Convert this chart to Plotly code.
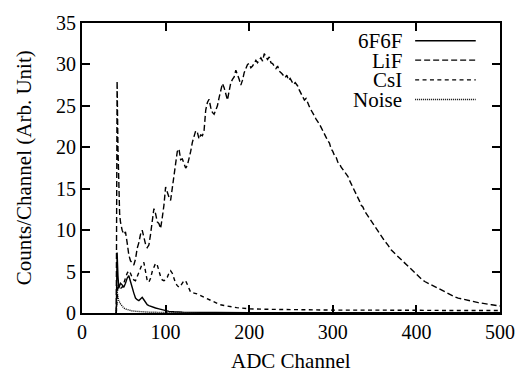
import plotly.graph_objects as go

# ---------------- data ----------------
lif_x = [41, 42, 43, 44, 45, 46, 48, 50, 52, 54, 56, 58, 60, 62, 64, 66, 68, 70, 72, 74,
         76, 78, 80, 82, 84, 86, 88, 90, 92, 94, 96, 98, 100, 102, 104, 106, 108, 110, 112, 114,
         116, 118, 120, 122, 124, 126, 128, 130, 132, 134, 136, 138, 140, 142, 144, 146, 148, 150, 152, 154,
         156, 158, 160, 162, 164, 166, 168, 170, 172, 174, 176, 178, 180, 182, 184, 186, 188, 190, 192, 194,
         196, 198, 200, 202, 204, 206, 208, 210, 212, 214, 216, 218, 220, 222, 224, 226, 228, 230, 232, 234,
         236, 239, 241, 243, 245, 247, 249, 251, 253, 255, 258, 260, 262, 264, 266, 268, 270, 272, 274, 276,
         278, 280, 282, 284, 286, 288, 290, 292, 294, 296, 298, 300, 302, 304, 306, 308, 310, 312, 314, 316,
         318, 320, 322, 324, 326, 328, 330, 332, 334, 336, 338, 340, 342, 344, 346, 348, 350, 354, 358, 362,
         366, 370, 374, 378, 382, 386, 390, 394, 398, 402, 406, 410, 414, 418, 422, 426, 430, 434, 438, 442,
         446, 450, 454, 458, 462, 466, 470, 474, 478, 482, 486, 490, 494, 498, 500]
lif_y = [0, 28.0, 20.0, 15.0, 12.0, 11.0, 10.0, 9.5, 9.8, 8.5, 7.0, 6.3, 6.0, 5.8, 6.5, 7.8, 8.5, 9.5, 10.0, 9.2,
         8.3, 7.9, 8.2, 9.5, 11.0, 12.6, 12.0, 11.0, 10.8, 10.2, 11.5, 13.0, 15.2, 14.5, 14.0, 13.6, 15.0, 16.5, 17.5, 19.5,
         19.8, 18.5, 18.6, 18.0, 17.5, 17.8, 18.5, 19.5, 20.6, 21.5, 22.0, 21.8, 21.0, 21.5, 21.4, 22.0, 24.5, 25.4, 25.8, 24.8,
         24.2, 24.0, 24.5, 25.0, 26.0, 27.0, 27.7, 27.2, 26.5, 25.7, 26.8, 27.8, 28.2, 28.5, 29.3, 28.8, 28.2, 27.5, 28.1, 29.0,
         29.5, 30.0, 30.1, 29.6, 29.8, 30.1, 30.5, 30.2, 30.6, 30.8, 30.4, 31.3, 30.9, 30.6, 30.9, 30.2, 30.1, 29.7, 29.5, 29.8,
         29.2, 28.9, 28.6, 28.4, 28.7, 28.1, 28.3, 27.9, 27.6, 27.8, 27.4, 26.9, 26.5, 26.2, 25.7, 25.9, 25.3, 24.9, 24.5, 24.2,
         23.8, 23.4, 23.0, 22.8, 22.4, 22.0, 21.8, 21.2, 20.8, 20.5, 19.8, 19.5, 19.0, 18.8, 18.2, 18.0, 17.6, 17.3, 17.0, 16.8,
         16.5, 16.0, 15.6, 15.2, 14.6, 14.3, 13.8, 13.5, 13.0, 12.8, 12.3, 12.0, 11.6, 11.4, 11.0, 10.7, 10.4, 9.8, 9.2, 8.7,
         8.2, 7.6, 7.2, 6.8, 6.4, 6.0, 5.6, 5.2, 4.8, 4.4, 4.1, 3.8, 3.6, 3.3, 3.1, 2.9, 2.7, 2.5, 2.3, 2.1,
         1.95, 1.8, 1.7, 1.6, 1.5, 1.4, 1.3, 1.25, 1.2, 1.1, 1.05, 1.0, 0.95, 0.9, 0.85]

csi_x = [41, 42, 43, 44, 46, 48, 50, 52, 54, 56, 58, 60, 62, 64, 66, 68, 70, 72, 74, 76,
         78, 80, 82, 84, 86, 88, 90, 92, 94, 96, 98, 100, 102, 104, 106, 108, 110, 112, 114, 116,
         118, 120, 122, 124, 126, 128, 130, 134, 138, 142, 146, 150, 155, 160, 165, 170, 175, 180, 185, 190,
         200, 220, 250, 300, 350, 400, 450, 500]
csi_y = [0, 2.0, 3.5, 2.8, 3.0, 3.1, 3.6, 4.2, 4.8, 5.1, 4.8, 4.3, 4.0, 3.9, 4.4, 5.0, 5.6, 5.9, 6.1, 5.0,
         3.9, 3.7, 4.2, 5.0, 5.6, 6.0, 5.8, 5.0, 4.4, 4.0, 3.9, 4.0, 4.3, 4.8, 5.1, 4.8, 4.2, 3.6, 3.3, 3.1,
         3.3, 3.6, 3.9, 3.9, 3.4, 2.9, 2.5, 2.4, 2.3, 2.1, 1.9, 1.8, 1.5, 1.2, 1.0, 0.9, 0.8, 0.7, 0.65, 0.6,
         0.5, 0.45, 0.4, 0.35, 0.35, 0.3, 0.3, 0.3]

f6_x = [41, 42, 43, 44, 45, 46, 48, 50, 52, 54, 56, 58, 60, 62, 64, 66, 68, 70, 72, 74,
        76, 78, 80, 84, 88, 92, 96, 100, 104, 110, 120, 200, 300, 400, 500]
f6_y = [0, 7.3, 4.5, 3.0, 3.3, 3.6, 3.4, 3.1, 3.6, 4.2, 4.5, 3.9, 3.1, 2.4, 1.8, 1.6, 1.5, 1.7, 1.9, 1.6,
        1.3, 1.0, 0.9, 0.7, 0.6, 0.5, 0.4, 0.3, 0.2, 0.15, 0.1, 0.05, 0.05, 0.05, 0.05]

noise_x = [41, 42, 43, 44, 46, 48, 50, 53, 56, 60, 65, 70, 80, 100, 150, 500]
noise_y = [0, 2.6, 2.0, 1.5, 1.1, 0.8, 0.6, 0.45, 0.35, 0.25, 0.2, 0.15, 0.1, 0.06, 0.04, 0.03]

names = ["6F6F", "LiF", "CsI", "Noise"]
dashes = ["solid", "6px,3px", "4px,3.4px", "1px,1px"]
x_ticks = [0, 100, 200, 300, 400, 500]
y_ticks = [0, 5, 10, 15, 20, 25, 30, 35]

FONT = "Liberation Serif, Times New Roman, serif"
series = [(f6_x, f6_y), (lif_x, lif_y), (csi_x, csi_y), (noise_x, noise_y)]

fig = go.Figure()
for (xs, ys), nm, ds in zip(series, names, dashes):
    fig.add_trace(go.Scatter(x=xs, y=ys, mode="lines", name=nm, showlegend=False,
                             line=dict(color="black", width=1.4, dash=ds)))

# manual legend: text on the left, line sample on the right
leg_y = [0.937, 0.870, 0.802, 0.734]
for nm, ds, yy in zip(names, dashes, leg_y):
    fig.add_annotation(x=0.771, y=yy, xref="paper", yref="paper", text=nm, showarrow=False,
                       xanchor="right", yanchor="middle", font=dict(family=FONT, size=21, color="black"))
    fig.add_shape(type="line", xref="paper", yref="paper", x0=0.797, x1=0.942, y0=yy + 0.002, y1=yy + 0.002,
                  line=dict(color="black", width=1.4, dash=ds))

fig.add_annotation(x=0.5, y=-0.167, xref="paper", yref="paper", text="ADC Channel", showarrow=False,
                   xanchor="center", yanchor="middle", font=dict(family=FONT, size=21, color="black"))
fig.add_annotation(x=-0.138, y=0.5, xref="paper", yref="paper", text="Counts/Channel (Arb. Unit)",
                   showarrow=False, textangle=-90, xanchor="center", yanchor="middle",
                   font=dict(family=FONT, size=21, color="black"))

axis_common = dict(showline=True, linecolor="black", linewidth=2, mirror="ticks", ticks="inside",
                   ticklen=8, tickwidth=1.5, tickcolor="black", showgrid=False, zeroline=False,
                   tickfont=dict(family=FONT, size=20, color="black"))
fig.update_xaxes(range=[0, 500], tickvals=x_ticks, **axis_common)
fig.update_yaxes(range=[0, 35], tickvals=y_ticks, **axis_common)

fig.update_layout(width=527, height=373, margin=dict(l=82, r=17, t=19, b=60),
                  plot_bgcolor="white", paper_bgcolor="white", showlegend=False,
                  font=dict(family=FONT, color="black"))
fig.write_html("out.html", config={"displayModeBar": False},
               post_script="document.body.style.margin='0';")
